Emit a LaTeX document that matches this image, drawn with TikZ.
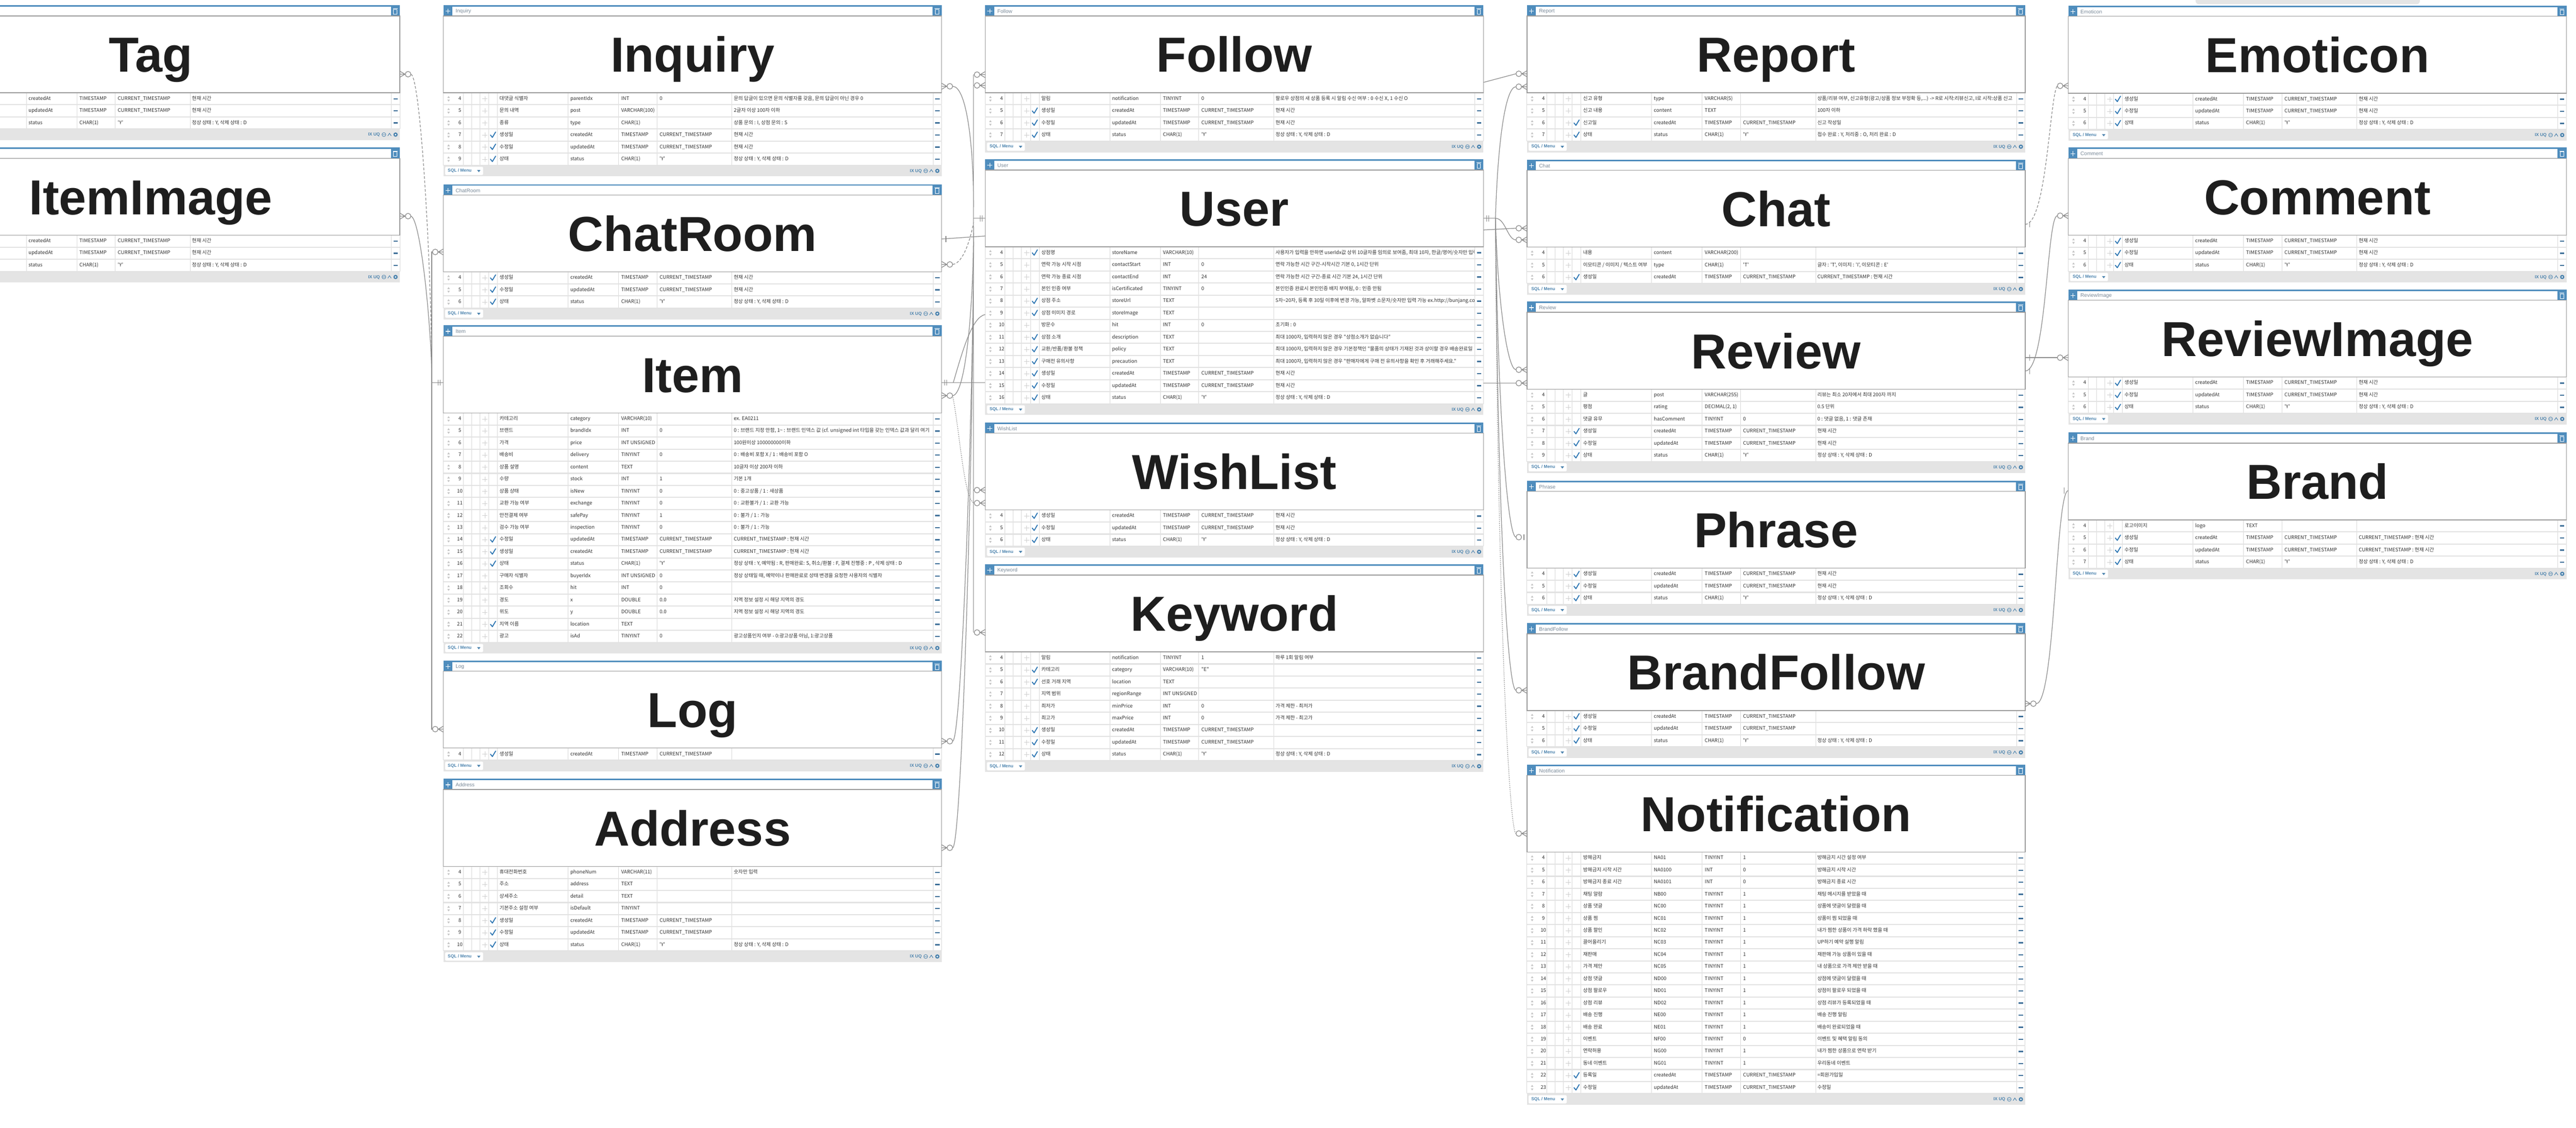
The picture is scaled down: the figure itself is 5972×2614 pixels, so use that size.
\documentclass[tikz,border=0pt]{standalone}
\usepackage{fontspec}
\setmainfont{Liberation Sans}
\newfontfamily\kr{Noto Sans CJK KR}
\usetikzlibrary{calc}
\definecolor{hblue}{HTML}{4F8DBD}
\definecolor{tframec}{HTML}{9A9A9A}
\definecolor{rowsepc}{HTML}{E2E2E2}
\definecolor{colsepc}{HTML}{D9D9D9}
\definecolor{footbg}{HTML}{E4E4E4}
\definecolor{footblue}{HTML}{4A82AD}
\definecolor{txt}{HTML}{333333}
\definecolor{chkblue}{HTML}{2F77B3}
\definecolor{minusblue}{HTML}{3F7099}
\definecolor{connc}{HTML}{8C8C8C}
\definecolor{sortg}{HTML}{C4C4C4}
\definecolor{moveg}{HTML}{CFCFCF}
\definecolor{titlek}{HTML}{1E1E1E}
\definecolor{hdrtxtc}{HTML}{7A8A99}
\tikzset{
 rowtxt/.style={anchor=west, inner sep=0pt, font=\kr\fontsize{11.5}{12}\selectfont, text=txt, text height=8.5pt, text depth=2.5pt},
 titletxt/.style={anchor=base, inner sep=0pt, font=\fontsize{114}{114}\selectfont\bfseries, text=titlek},
 hdrtxt/.style={anchor=west, inner sep=0pt, font=\fontsize{12}{12}\selectfont, text=hdrtxtc},
 foottxt/.style={anchor=west, inner sep=0pt, font=\fontsize{10}{10}\selectfont\bfseries, text=footblue},
 rowsep/.style={draw=rowsepc, line width=2.5pt},
 colsep/.style={draw=colsepc, line width=1pt},
 tframe/.style={draw=tframec, line width=1.6pt, fill=white},
 sideline/.style={draw=colsepc, line width=1.2pt},
 chk/.style={draw=chkblue, line width=2.2pt, line cap=round, line join=round},
 minusmark/.style={draw=minusblue, line width=2.8pt},
 conn/.style={draw=connc, line width=1.5pt},
 mk/.style={draw=connc, line width=1.5pt},
 dashline/.style={dash pattern=on 6pt off 4pt},
 dotline/.style={dash pattern=on 2pt off 2.5pt},
}
\def\curL{0}\def\curY{0}
\newcounter{rid}
\newcommand\ertable[5]{%
  \pgfmathsetmacro\tL{#2}%
  \pgfmathsetmacro\tR{#2+1155}%
  \pgfmathsetmacro\tT{#3}%
  \pgfmathsetmacro\rT{#3+203}%
  \pgfmathsetmacro\rB{#3+203+28*#4}%
  \pgfmathsetmacro\tC{#2+577.5}%
  \fill[hblue] (\tL,\tT) rectangle (\tR,\tT+25);
  \fill[white] (\tL+21,\tT+3.5) rectangle (\tR-21,\tT+25);
  \draw[draw=colsepc, line width=1pt] (\tL+21,\tT+24.5) -- (\tR-21,\tT+24.5);
  \draw[white, line width=1.3pt] (\tL+5,\tT+14) -- (\tL+16,\tT+14) (\tL+10.5,\tT+8.5) -- (\tL+10.5,\tT+19.5);
  \draw[white, line width=1.2pt] (\tR-14.5,\tT+10) rectangle (\tR-6.5,\tT+21) (\tR-16,\tT+8) -- (\tR-5,\tT+8);
  \ifdim\tL pt>0pt \node[hdrtxt] (#1-h) at (\tL+28,\tT+14.5) {#5};\fi
  \fill[white] (\tL,\rT) rectangle (\tR,\rB);
  \foreach \cx in {46,65,84,105,125,289,406,495,669,1135}{\draw[colsep] (\tL+\cx,\rT) -- (\tL+\cx,\rB);}
  \draw[sideline] (\tL,\rT) -- (\tL,\rB) (\tR,\rT) -- (\tR,\rB);
  \draw[tframe] (\tL,\tT+25) rectangle (\tR,\tT+203);
  \node[titletxt] (#1) at (\tC,\tT+155) {#5};
  \fill[footbg] (\tL,\rB) rectangle (\tR,\rB+26);
  \ifdim\tL pt>0pt
  \fill[white, rounded corners=2pt] (\tL+4,\rB+3.5) rectangle (\tL+92,\rB+22.5);
  \node[foottxt] (#1-s) at (\tL+10,\rB+13) {SQL / Menu};
  \fill[footblue] (\tL+78,\rB+11) -- (\tL+86,\rB+11) -- (\tL+82,\rB+16) -- cycle;
  \fi
  \node[foottxt, anchor=east] (#1-x) at (\tR-46,\rB+13.5) {IX UQ};
  \draw[footblue, line width=1pt] (\tR-37,\rB+13) circle[radius=4.5pt] (\tR-40,\rB+13) -- (\tR-34,\rB+13);
  \draw[footblue, line width=1.2pt] (\tR-28,\rB+16) -- (\tR-24,\rB+10) -- (\tR-20,\rB+16);
  \fill[footblue] (\tR-10,\rB+13) circle[radius=5pt];
  \fill[white] (\tR-10,\rB+13) circle[radius=2pt];
  \xdef\curL{\tL}\xdef\curY{\rT}%
}
\newcommand\errow[7]{%
  \stepcounter{rid}%
  \pgfmathsetmacro\ry{\curY+14}%
  \pgfmathsetmacro\rb{\curY+28}%
  \draw[rowsep] (\curL,\rb) -- (\curL+1155,\rb);
  \fill[sortg] (\curL+9,\ry-2) -- (\curL+12,\ry-6.5) -- (\curL+15,\ry-2) -- cycle
               (\curL+9,\ry+2) -- (\curL+12,\ry+6.5) -- (\curL+15,\ry+2) -- cycle;
  \draw[moveg, line width=1pt] (\curL+90,\ry) -- (\curL+102,\ry) (\curL+96,\ry-6) -- (\curL+96,\ry+6);
  \node[rowtxt, anchor=center] (r\therid n) at (\curL+38,\ry) {#1};
  \if\relax\detokenize{#2}\relax\else
    \draw[chk] (\curL+109,\ry) -- (\curL+113.5,\ry+5.5) -- (\curL+121,\ry-7);
  \fi
  \begin{scope}
    \clip (\curL+126,\curY) rectangle (\curL+288,\rb);
    \node[rowtxt] (r\therid k) at (\curL+130,\ry) {#3};
  \end{scope}
  \node[rowtxt] (r\therid e) at (\curL+294,\ry) {#4};
  \node[rowtxt] (r\therid t) at (\curL+412,\ry) {#5};
  \node[rowtxt] (r\therid d) at (\curL+501,\ry) {#6};
  \begin{scope}
    \clip (\curL+670,\curY) rectangle (\curL+1134,\rb);
    \node[rowtxt] (r\therid c) at (\curL+673,\ry) {#7};
  \end{scope}
  \draw[minusmark] (\curL+1140,\ry) -- (\curL+1150,\ry);
  \xdef\curY{\rb}%
}
\newcommand\rowsCUS[3]{%
  \errow{#1}{c}{생성일}{createdAt}{TIMESTAMP}{CURRENT\_TIMESTAMP}{현재 시간}
  \errow{#2}{c}{수정일}{updatedAt}{TIMESTAMP}{CURRENT\_TIMESTAMP}{현재 시간}
  \errow{#3}{c}{상태}{status}{CHAR(1)}{'Y'}{정상 상태 : Y, 삭제 상태 : D}}
\newcommand\rowsCUSleft{%
  \errow{}{}{}{createdAt}{TIMESTAMP}{CURRENT\_TIMESTAMP}{현재 시간}
  \errow{}{}{}{updatedAt}{TIMESTAMP}{CURRENT\_TIMESTAMP}{현재 시간}
  \errow{}{}{}{status}{CHAR(1)}{'Y'}{정상 상태 : Y, 삭제 상태 : D}}
\newcommand\mkmany[2]{%
  \draw[mk] ($(#1)+(0,-7)$) -- ($(#1)+(#2*12,0)$) -- ($(#1)+(0,7)$) (#1) -- ($(#1)+(#2*12,0)$);
  \draw[mk] ($(#1)+(#2*19,0)$) circle[radius=6.5pt];}
\newcommand\mkone[2]{%
  \draw[mk] ($(#1)+(#2*7,-7)$) -- ($(#1)+(#2*7,7)$) ($(#1)+(#2*12,-7)$) -- ($(#1)+(#2*12,7)$);}
\newcommand\mkbar[2]{\draw[mk] ($(#1)+(#2*10,-7)$) -- ($(#1)+(#2*10,7)$);}
\newcommand\mkzo[2]{%
  \draw[mk] ($(#1)+(#2*7,-7)$) -- ($(#1)+(#2*7,7)$);
  \draw[mk] ($(#1)+(#2*19,0)$) circle[radius=6.5pt];}
\begin{document}
\begin{tikzpicture}[x=1pt,y=-1pt]
\useasboundingbox (0,0) rectangle (5972,2614);
\clip (0,0) rectangle (5972,2614);
\fill[white] (0,0) rectangle (5972,2614);
\fill[black!10, rounded corners=8pt] (5090,-12) rectangle (5610,10);
% ---------- column 1
\ertable{Tag}{-228}{12}{3}{Tag}
\rowsCUSleft
\ertable{ItemImage}{-228}{342}{3}{ItemImage}
\rowsCUSleft
% ---------- column 2
\ertable{Inquiry}{1028}{12}{6}{Inquiry}
\errow{4}{}{대댓글 식별자}{parentIdx}{INT}{0}{문의 답글이 있으면 문의 식별자를 갖음, 문의 답글이 아닌 경우 0}
\errow{5}{}{문의 내역}{post}{VARCHAR(100)}{}{2글자 이상 100자 이하}
\errow{6}{}{종류}{type}{CHAR(1)}{}{상품 문의 : I, 상점 문의 : S}
\rowsCUS{7}{8}{9}
\ertable{ChatRoom}{1028}{427}{3}{ChatRoom}
\rowsCUS{4}{5}{6}
\ertable{Item}{1028}{754}{19}{Item}
\errow{4}{}{카테고리}{category}{VARCHAR(10)}{}{ex. EA0211}
\errow{5}{}{브랜드}{brandIdx}{INT}{0}{0 : 브랜드 지정 안함, 1\textasciitilde{} : 브랜드 인덱스 값 (cf. unsigned int 타입을 갖는 인덱스 값과 달리 여기}
\errow{6}{}{가격}{price}{INT UNSIGNED}{}{100원이상 100000000이하}
\errow{7}{}{배송비}{delivery}{TINYINT}{0}{0 : 배송비 포함 X / 1 : 배송비 포함 O}
\errow{8}{}{상품 설명}{content}{TEXT}{}{10글자 이상 200자 이하}
\errow{9}{}{수량}{stock}{INT}{1}{기본 1개}
\errow{10}{}{상품 상태}{isNew}{TINYINT}{0}{0 : 중고상품 / 1 : 새상품}
\errow{11}{}{교환 가능 여부}{exchange}{TINYINT}{0}{0 : 교환불가 / 1 : 교환 가능}
\errow{12}{}{안전결제 여부}{safePay}{TINYINT}{1}{0 : 불가 / 1 : 가능}
\errow{13}{}{검수 가능 여부}{inspection}{TINYINT}{0}{0 : 불가 / 1 : 가능}
\errow{14}{c}{수정일}{updatedAt}{TIMESTAMP}{CURRENT\_TIMESTAMP}{CURRENT\_TIMESTAMP : 현재 시간}
\errow{15}{c}{생성일}{createdAt}{TIMESTAMP}{CURRENT\_TIMESTAMP}{CURRENT\_TIMESTAMP : 현재 시간}
\errow{16}{c}{상태}{status}{CHAR(1)}{'Y'}{정상 상태 : Y, 예약됨 : R, 판매완료: S, 취소/환불 : F, 결제 진행중 : P , 삭제 상태 : D}
\errow{17}{}{구매자 식별자}{buyerIdx}{INT UNSIGNED}{0}{정상 상태일 때, 예약이나 판매완료로 상태 변경을 요청한 사용자의 식별자}
\errow{18}{}{조회수}{hit}{INT}{0}{}
\errow{19}{}{경도}{x}{DOUBLE}{0.0}{지역 정보 설정 시 해당 지역의 경도}
\errow{20}{}{위도}{y}{DOUBLE}{0.0}{지역 정보 설정 시 해당 지역의 경도}
\errow{21}{c}{지역 이름}{location}{TEXT}{}{}
\errow{22}{}{광고}{isAd}{TINYINT}{0}{광고상품인지 여부 - 0:광고상품 아님, 1:광고상품}
\ertable{Log}{1028}{1531}{1}{Log}
\errow{4}{c}{생성일}{createdAt}{TIMESTAMP}{CURRENT\_TIMESTAMP}{}
\ertable{Address}{1028}{1805}{7}{Address}
\errow{4}{}{휴대전화번호}{phoneNum}{VARCHAR(11)}{}{숫자만 입력}
\errow{5}{}{주소}{address}{TEXT}{}{}
\errow{6}{}{상세주소}{detail}{TEXT}{}{}
\errow{7}{}{기본주소 설정 여부}{isDefault}{TINYINT}{}{}
\errow{8}{c}{생성일}{createdAt}{TIMESTAMP}{CURRENT\_TIMESTAMP}{}
\errow{9}{c}{수정일}{updatedAt}{TIMESTAMP}{CURRENT\_TIMESTAMP}{}
\errow{10}{c}{상태}{status}{CHAR(1)}{'Y'}{정상 상태 : Y, 삭제 상태 : D}
% ---------- column 3
\ertable{Follow}{2284}{12}{4}{Follow}
\errow{4}{}{알림}{notification}{TINYINT}{0}{팔로우 상점의 새 상품 등록 시 알림 수신 여부 : 0 수신 X, 1 수신 O}
\rowsCUS{5}{6}{7}
\ertable{User}{2284}{369}{13}{User}
\errow{4}{c}{상점명}{storeName}{VARCHAR(10)}{}{사용자가 입력을 안하면 userIdx값 상위 10글자를 임의로 보여줌, 최대 10자, 한글/영어/숫자만 입력}
\errow{5}{}{연락 가능 시작 시점}{contactStart}{INT}{0}{연락 가능한 시간 구간-시작시간 기본 0, 1시간 단위}
\errow{6}{}{연락 가능 종료 시점}{contactEnd}{INT}{24}{연락 가능한 시간 구간-종료 시간 기본 24, 1시간 단위}
\errow{7}{}{본인 인증 여부}{isCertificated}{TINYINT}{0}{본인인증 완료시 본인인증 배지 부여됨, 0 : 인증 안됨}
\errow{8}{c}{상점 주소}{storeUrl}{TEXT}{}{5자\textasciitilde{}20자, 등록 후 30일 이후에 변경 가능, 알파벳 소문자/숫자만 입력 가능 ex.http://bunjang.co.kr}
\errow{9}{c}{상점 이미지 경로}{storeImage}{TEXT}{}{}
\errow{10}{}{방문수}{hit}{INT}{0}{초기화 : 0}
\errow{11}{c}{상점 소개}{description}{TEXT}{}{최대 1000자, 입력하지 않은 경우 "상점소개가 없습니다"}
\errow{12}{c}{교환/반품/환불 정책}{policy}{TEXT}{}{최대 1000자, 입력하지 않은 경우 기본정책인 "물품의 상태가 기재된 것과 상이할 경우 배송완료일}
\errow{13}{c}{구매전 유의사항}{precaution}{TEXT}{}{최대 1000자, 입력하지 않은 경우 "판매자에게 구매 전 유의사항을 확인 후 거래해주세요."}
\errow{14}{c}{생성일}{createdAt}{TIMESTAMP}{CURRENT\_TIMESTAMP}{현재 시간}
\errow{15}{c}{수정일}{updatedAt}{TIMESTAMP}{CURRENT\_TIMESTAMP}{현재 시간}
\errow{16}{c}{상태}{status}{CHAR(1)}{'Y'}{정상 상태 : Y, 삭제 상태 : D}
\ertable{WishList}{2284}{979}{3}{WishList}
\rowsCUS{4}{5}{6}
\ertable{Keyword}{2284}{1308}{9}{Keyword}
\errow{4}{}{알림}{notification}{TINYINT}{1}{하루 1회 알림 여부}
\errow{5}{c}{카테고리}{category}{VARCHAR(10)}{"E"}{}
\errow{6}{c}{선호 거래 지역}{location}{TEXT}{}{}
\errow{7}{}{지역 범위}{regionRange}{INT UNSIGNED}{}{}
\errow{8}{}{최저가}{minPrice}{INT}{0}{가격 제한 - 최저가}
\errow{9}{}{최고가}{maxPrice}{INT}{0}{가격 제한 - 최고가}
\errow{10}{c}{생성일}{createdAt}{TIMESTAMP}{CURRENT\_TIMESTAMP}{}
\errow{11}{c}{수정일}{updatedAt}{TIMESTAMP}{CURRENT\_TIMESTAMP}{}
\errow{12}{c}{상태}{status}{CHAR(1)}{'Y'}{정상 상태 : Y, 삭제 상태 : D}
% ---------- column 4
\ertable{Report}{3540}{12}{4}{Report}
\errow{4}{}{신고 유형}{type}{VARCHAR(5)}{}{상품/리뷰 여부, 신고유형(광고/상품 정보 부정확 등,...) -> R로 시작:리뷰신고, I로 시작:상품 신고}
\errow{5}{}{신고 내용}{content}{TEXT}{}{100자 이하}
\errow{6}{c}{신고일}{createdAt}{TIMESTAMP}{CURRENT\_TIMESTAMP}{신고 작성일}
\errow{7}{c}{상태}{status}{CHAR(1)}{'Y'}{접수 완료 : Y, 처리중 : O, 처리 완료 : D}
\ertable{Chat}{3540}{370}{3}{Chat}
\errow{4}{}{내용}{content}{VARCHAR(200)}{}{}
\errow{5}{}{이모티콘 / 이미지 / 텍스트 여부}{type}{CHAR(1)}{'T'}{글자 : 'T', 이미지 : 'I', 이모티콘 : E'}
\errow{6}{c}{생성일}{createdAt}{TIMESTAMP}{CURRENT\_TIMESTAMP}{CURRENT\_TIMESTAMP : 현재 시간}
\ertable{Review}{3540}{699}{6}{Review}
\errow{4}{}{글}{post}{VARCHAR(255)}{}{리뷰는 최소 20자에서 최대 200자 까지}
\errow{5}{}{평점}{rating}{DECIMAL(2, 1)}{}{0.5 단위}
\errow{6}{}{댓글 유무}{hasComment}{TINYINT}{0}{0 : 댓글 없음, 1 : 댓글 존재}
\rowsCUS{7}{8}{9}
\ertable{Phrase}{3540}{1114}{3}{Phrase}
\rowsCUS{4}{5}{6}
\ertable{BrandFollow}{3540}{1444}{3}{BrandFollow}
\errow{4}{c}{생성일}{createdAt}{TIMESTAMP}{CURRENT\_TIMESTAMP}{}
\errow{5}{c}{수정일}{updatedAt}{TIMESTAMP}{CURRENT\_TIMESTAMP}{}
\errow{6}{c}{상태}{status}{CHAR(1)}{'Y'}{정상 상태 : Y, 삭제 상태 : D}
\ertable{Notification}{3540}{1772}{20}{Notification}
\errow{4}{}{방해금지}{NA01}{TINYINT}{1}{방해금지 시간 설정 여부}
\errow{5}{}{방해금지 시작 시간}{NA0100}{INT}{0}{방해금지 시작 시간}
\errow{6}{}{방해금지 종료 시간}{NA0101}{INT}{0}{방해금지 종료 시간}
\errow{7}{}{채팅 알람}{NB00}{TINYINT}{1}{채팅 메시지를 받았을 때}
\errow{8}{}{상품 댓글}{NC00}{TINYINT}{1}{상품에 댓글이 달렸을 때}
\errow{9}{}{상품 찜}{NC01}{TINYINT}{1}{상품이 찜 되었을 때}
\errow{10}{}{상품 할인}{NC02}{TINYINT}{1}{내가 찜한 상품이 가격 하락 했을 때}
\errow{11}{}{끌어올리기}{NC03}{TINYINT}{1}{UP하기 예약 실행 알림}
\errow{12}{}{재판매}{NC04}{TINYINT}{1}{재판매 가능 상품이 있을 때}
\errow{13}{}{가격 제안}{NC05}{TINYINT}{1}{내 상품으로 가격 제안 받을 때}
\errow{14}{}{상점 댓글}{ND00}{TINYINT}{1}{상점에 댓글이 달렸을 때}
\errow{15}{}{상점 팔로우}{ND01}{TINYINT}{1}{상점이 팔로우 되었을 때}
\errow{16}{}{상점 리뷰}{ND02}{TINYINT}{1}{상점 리뷰가 등록되었을 때}
\errow{17}{}{배송 진행}{NE00}{TINYINT}{1}{배송 진행 알림}
\errow{18}{}{배송 완료}{NE01}{TINYINT}{1}{배송이 완료되었을 때}
\errow{19}{}{이벤트}{NF00}{TINYINT}{0}{이벤트 및 혜택 알림 동의}
\errow{20}{}{연락허용}{NG00}{TINYINT}{1}{내가 찜한 상품으로 연락 받기}
\errow{21}{}{동네 이벤트}{NG01}{TINYINT}{1}{우리동네 이벤트}
\errow{22}{c}{등록일}{createdAt}{TIMESTAMP}{CURRENT\_TIMESTAMP}{=회원가입일}
\errow{23}{c}{수정일}{updatedAt}{TIMESTAMP}{CURRENT\_TIMESTAMP}{수정일}
% ---------- column 5
\ertable{Emoticon}{4795}{13}{3}{Emoticon}
\rowsCUS{4}{5}{6}
\ertable{Comment}{4795}{342}{3}{Comment}
\rowsCUS{4}{5}{6}
\ertable{ReviewImage}{4795}{671}{3}{ReviewImage}
\rowsCUS{4}{5}{6}
\ertable{Brand}{4795}{1002}{4}{Brand}
\errow{4}{}{로고이미지}{logo}{TEXT}{}{}
\errow{5}{c}{생성일}{createdAt}{TIMESTAMP}{CURRENT\_TIMESTAMP}{CURRENT\_TIMESTAMP : 현재 시간}
\errow{6}{c}{수정일}{updatedAt}{TIMESTAMP}{CURRENT\_TIMESTAMP}{CURRENT\_TIMESTAMP : 현재 시간}
\errow{7}{c}{상태}{status}{CHAR(1)}{'Y'}{정상 상태 : Y, 삭제 상태 : D}
% ================= connectors
% gap 1
\coordinate (tagR) at (927,172); \coordinate (tagRo) at (952.5,172);
\coordinate (iiR) at (927,501); \coordinate (iiRo) at (952.5,501);
\coordinate (crL) at (1028,584); \coordinate (crLo) at (1002.5,584);
\coordinate (itemL) at (1028,887); \coordinate (j1) at (1001,887);
\coordinate (logL) at (1028,1690); \coordinate (logLo) at (1002.5,1690);
\mkmany{tagR}{1} \mkmany{iiR}{1} \mkmany{crL}{-1} \mkone{itemL}{-1} \mkmany{logL}{-1}
\draw[conn,dashline] (tagRo) .. controls (975,175) and (1001,620) .. (j1);
\draw[conn] (iiRo) .. controls (975,505) and (1001,760) .. (j1);
\draw[conn] (crLo) -| (j1);
\draw[conn] (j1) -- (itemL);
\draw[conn] (j1) |- (logLo);
% gap 2
\coordinate (busT) at (2257,173); \coordinate (busB) at (2257,1466);
\coordinate (bF2) at (2257,198); \coordinate (b1) at (2257,506); \coordinate (bW1) at (2257,1136);
\coordinate (b0) at (2257,480); \coordinate (bC) at (2257,515); \coordinate (bI) at (2257,525);
\coordinate (bL) at (2257,540); \coordinate (bA) at (2257,560);
\coordinate (inqR) at (2183,200); \coordinate (inqRo) at (2208.5,200);
\coordinate (folL1) at (2284,173); \coordinate (folL1o) at (2258.5,173);
\coordinate (folL2) at (2284,198); \coordinate (folL2o) at (2258.5,198);
\coordinate (userL) at (2284,506); \coordinate (userL2) at (2284,547);
\coordinate (userL3) at (2284,729); \coordinate (userL4) at (2284,887);
\coordinate (crR1) at (2183,554); \coordinate (crR2) at (2183,613); \coordinate (crR2o) at (2208.5,613);
\coordinate (itemR1) at (2183,887); \coordinate (itemR1b) at (2210,887);
\coordinate (itemR2) at (2183,917); \coordinate (itemR2o) at (2208.5,917);
\coordinate (wlL1) at (2284,1136); \coordinate (wlL1o) at (2258.5,1136);
\coordinate (wlL2) at (2284,1166); \coordinate (wlL2o) at (2258.5,1166);
\coordinate (kwL) at (2284,1466); \coordinate (kwLo) at (2258.5,1466);
\coordinate (logR) at (2183,1718); \coordinate (logRo) at (2208.5,1718);
\coordinate (adR) at (2183,1965); \coordinate (adRo) at (2208.5,1965);
\mkmany{inqR}{1} \mkmany{folL1}{-1} \mkmany{folL2}{-1} \mkone{userL}{-1}
\mkbar{crR1}{1} \mkmany{crR2}{1} \mkone{itemR1}{1} \mkmany{itemR2}{1}
\mkmany{wlL1}{-1} \mkmany{wlL2}{-1} \mkmany{kwL}{-1} \mkmany{logR}{1} \mkmany{adR}{1}
\draw[conn] (busT) -- (busB);
\draw[conn] (busT) -- (folL1o);
\draw[conn] (bF2) -- (folL2o);
\draw[conn] (b1) -- (userL);
\draw[conn] (bW1) -- (wlL1o);
\draw[conn] (busB) -- (kwLo);
\draw[conn] (inqRo) .. controls (2240,200) and (2257,330) .. (b0);
\draw[conn] (crR1) -- (userL2);
\draw[conn,dashline] (crR2o) .. controls (2235,610) and (2252,545) .. (bC);
\draw[conn] (itemR1) -- (userL4);
\draw[conn] (itemR1b) .. controls (2235,800) and (2255,735) .. (userL3);
\draw[conn] (itemR2o) .. controls (2240,915) and (2257,700) .. (bI);
\draw[conn,dotline] (itemR2o) .. controls (2225,1000) and (2235,1160) .. (wlL2o);
\draw[conn] (logRo) .. controls (2230,1718) and (2257,900) .. (bL);
\draw[conn] (adRo) .. controls (2230,1965) and (2257,1000) .. (bA);
% gap 3
\coordinate (folR) at (3439,191); \coordinate (repL1) at (3540,171); \coordinate (repL1o) at (3514.5,171);
\coordinate (userR) at (3439,506); \coordinate (J) at (3467,506);
\coordinate (repL2) at (3540,201); \coordinate (repL2o) at (3514.5,201);
\coordinate (userR2) at (3439,533); \coordinate (chatL1) at (3540,529); \coordinate (chatL1o) at (3514.5,529);
\coordinate (chatL2) at (3540,556); \coordinate (chatL2o) at (3514.5,556);
\coordinate (revL1) at (3540,857); \coordinate (revL1o) at (3514.5,857);
\coordinate (userR3) at (3439,888); \coordinate (revL2) at (3540,888); \coordinate (revL2o) at (3514.5,888);
\coordinate (phrL) at (3540,1245); \coordinate (phrLo) at (3514.5,1245);
\coordinate (bfL) at (3540,1600); \coordinate (bfLo) at (3514.5,1600);
\coordinate (notiL) at (3540,1932); \coordinate (notiLo) at (3514.5,1932);
\mkmany{repL1}{-1} \mkmany{repL2}{-1} \mkmany{chatL1}{-1} \mkmany{chatL2}{-1}
\mkmany{revL1}{-1} \mkmany{revL2}{-1} \mkzo{phrL}{-1} \mkmany{bfL}{-1} \mkmany{notiL}{-1}
\mkone{userR}{1}
\draw[conn] (folR) -- (repL1o);
\draw[conn] (userR) -- (J);
\draw[conn] (J) .. controls (3472,330) and (3490,201) .. (repL2o);
\draw[conn] (userR2) -- (chatL1o);
\draw[conn] (J) .. controls (3490,506) and (3495,556) .. (chatL2o);
\draw[conn] (J) .. controls (3472,700) and (3495,857) .. (revL1o);
\draw[conn] (userR3) -- (revL2o);
\draw[conn] (J) .. controls (3472,950) and (3495,1245) .. (phrLo);
\draw[conn] (J) .. controls (3472,1200) and (3495,1600) .. (bfLo);
\draw[conn,dotline] (J) .. controls (3472,1450) and (3500,1932) .. (notiLo);
% gap 4
\coordinate (chatR) at (4695,520); \coordinate (emoL) at (4795,199); \coordinate (emoLo) at (4769.5,199);
\coordinate (revR1) at (4695,829); \coordinate (riL) at (4795,829); \coordinate (riLo) at (4769.5,829);
\coordinate (revR2) at (4695,860); \coordinate (comL) at (4795,500); \coordinate (comLo) at (4769.5,500);
\coordinate (bfR) at (4695,1631); \coordinate (bfRo) at (4720.5,1631); \coordinate (brandL) at (4795,1137);
\mkbar{chatR}{1} \mkmany{emoL}{-1} \mkbar{revR1}{1} \mkmany{riL}{-1} \mkbar{revR2}{1} \mkmany{comL}{-1}
\mkmany{bfR}{1} \mkbar{brandL}{-1}
\draw[conn,dashline] (chatR) .. controls (4745,520) and (4752,220) .. (emoLo);
\draw[conn] (revR1) -- (riLo);
\draw[conn] (revR2) .. controls (4745,860) and (4745,500) .. (comLo);
\draw[conn] (bfRo) .. controls (4765,1631) and (4765,1137) .. (brandL);
\end{tikzpicture}
\end{document}
